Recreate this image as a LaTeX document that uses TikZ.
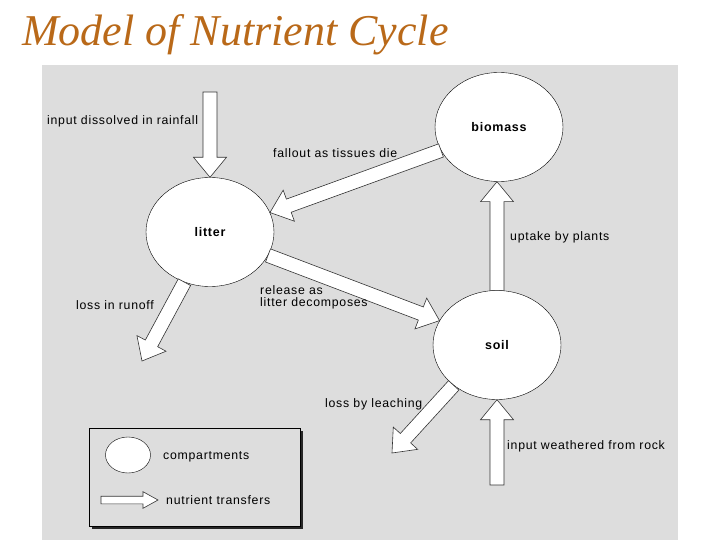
\documentclass[tikz,border=0pt]{standalone}
\usepackage{fontspec}
\setmainfont{Liberation Serif}
\newfontfamily\labelfont[LetterSpace=6]{Liberation Sans}
\usetikzlibrary{
    shapes.geometric,
    calc
}
\definecolor{titlebrown}{RGB}{185,105,25}
\definecolor{scangray}{RGB}{221,221,221}
\tikzset{
    compartment/.style={
        ellipse,
        draw,
        fill=white,
        minimum width=128pt,
        minimum height=109pt,
        inner sep=0pt,
        font=\labelfont\fontsize{12.5}{12}\selectfont\bfseries
    },
    note/.style={
        anchor=west,
        inner sep=0pt,
        align=left,
        font=\labelfont\fontsize{12.3}{12}\selectfont
    },
    transferbox/.style={
        draw=black!80,
        fill=white,
        line width=0.6pt,
        line join=miter
    }
}
% block arrow from #1 to #2 (sizes in \shaftw, \headw, \headl)
\newcommand{\transfer}[2]{%
    \coordinate (ta) at (#1);
    \coordinate (tb) at (#2);
    \coordinate (tc) at ($(tb)!\headl!(ta)$);
    \draw[transferbox]
        ($(ta)!\shaftw!90:(tb)$) -- ($(tc)!\shaftw!-90:(ta)$)
        -- ($(tc)!\headw!-90:(ta)$) -- (tb) -- ($(tc)!\headw!90:(ta)$)
        -- ($(tc)!\shaftw!90:(ta)$) -- ($(ta)!\shaftw!-90:(tb)$) -- cycle;
}

\begin{document}
\begin{tikzpicture}[
    x=1pt,
    y=-1pt
]
    \useasboundingbox (0,0) rectangle (720,540);

    % Titulo y hoja escaneada
    \node[anchor=base west, inner sep=0pt, text=titlebrown,
          font=\itshape\fontsize{44}{44}\selectfont] (title) at (22,46) {Model of Nutrient Cycle};
    \fill[scangray] (42,65) rectangle (678,540);

    % Compartimentos
    \node[compartment] (biomass) at (499,127) {biomass};
    \node[compartment] (litter)  at (210,232) {litter};
    \node[compartment] (soil)    at (497,345) {soil};

    % Extremos libres
    \coordinate (rainin) at (210,92);
    \coordinate (runoff) at (142,361);
    \coordinate (leach)  at (392,453);
    \coordinate (rockin) at (497,485);

    % Transferencias
    \def\shaftw{7pt}\def\headw{16.5pt}\def\headl{20pt}
    \transfer{rainin}{litter.north}
    \transfer{biomass.202}{litter.18}
    \transfer{soil.north}{soil.north |- biomass.south}
    \transfer{litter.338}{soil.157}
    \transfer{litter.243}{runoff}
    \transfer{soil.223}{leach}
    \transfer{rockin}{soil.south}

    % Etiquetas
    \node[note] (rainlbl)    at (47,121)  {input dissolved in rainfall};
    \node[note] (falllbl)    at (273,153) {fallout as tissues die};
    \node[note] (uptakelbl)  at (510,237) {uptake by plants};
    \node[note] (releaselbl) at (260,297) {release as\\litter decomposes};
    \node[note] (runofflbl)  at (76,305)  {loss in runoff};
    \node[note] (leachlbl)   at (325,404) {loss by leaching};
    \node[note] (rocklbl)    at (507,446) {input weathered from rock};

    % Leyenda
    \fill[black!85] (92,431) rectangle (303,529);
    \draw[fill=scangray, line width=0.6pt] (89,428) rectangle (300,526);
    \node[compartment, minimum width=45pt, minimum height=36pt] (keycirc) at (128,455) {};
    \node[note] (keycirclbl) at (163,457) {compartments};
    \begin{scope}
        \def\shaftw{3.8pt}\def\headw{8.3pt}\def\headl{15pt}
        \coordinate (keytail) at (101,500);
        \coordinate (keytip)  at (158,500);
        \transfer{keytail}{keytip}
    \end{scope}
    \node[note] (keyarrowlbl) at (166,500) {nutrient transfers};

\end{tikzpicture}
\end{document}
